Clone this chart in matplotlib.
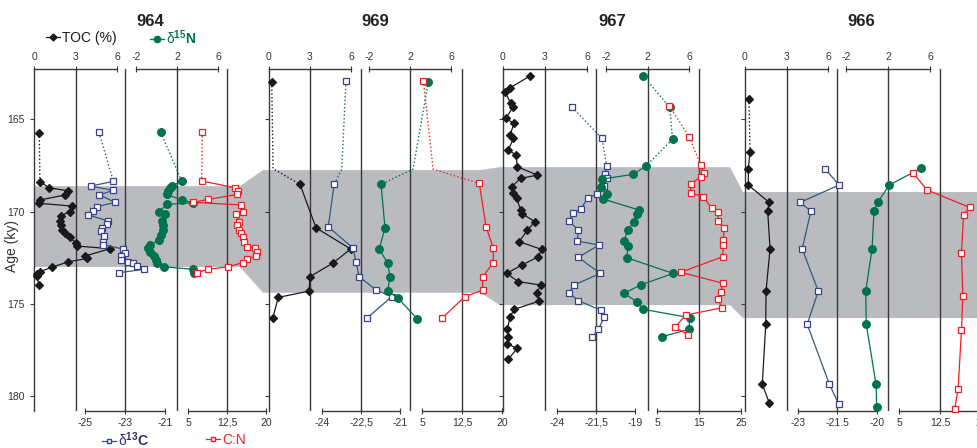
#==============================================================================
#   HEADERS
#==============================================================================
import numpy as np
import matplotlib
matplotlib.use('Agg')
import matplotlib.pyplot as plt
from matplotlib.lines import Line2D

plt.rcParams['font.family'] = ['Liberation Sans', 'DejaVu Sans']
plt.rcParams['mathtext.fontset'] = 'custom'
plt.rcParams['mathtext.rm'] = 'Liberation Sans'
plt.rcParams['mathtext.bf'] = 'Liberation Sans:bold'
plt.rcParams['mathtext.it'] = 'Liberation Sans:italic'

#==============================================================================
#   DATA  (age in ky)
#==============================================================================
sites = ['964', '969', '967', '966']

# correlation band (ky) for each site
band_top = [168.62, 167.75, 167.59, 168.94]
band_bot = [173.00, 174.40, 175.07, 175.77]

# ---- 964
age_964_toc = [165.73, 168.38, 168.71, 168.87, 169.10, 169.37, 169.55, 169.70, 170.00, 170.22,
               170.50, 170.73, 171.00, 171.16, 171.40, 171.72, 171.87, 172.01, 172.41, 172.54,
               172.72, 173.02, 173.26, 173.39, 173.49, 173.98]
toc_964 = [0.38, 0.43, 1.10, 2.44, 2.24, 0.43, 0.38, 2.72, 2.60, 1.95,
           1.88, 1.95, 2.05, 2.24, 2.60, 3.04, 3.13, 5.50, 3.69, 3.86,
           2.48, 1.28, 0.43, 0.24, 0.19, 0.38]
age_964_c13 = [165.71, 168.36, 168.62, 168.85, 169.09, 169.50, 169.74, 169.97, 170.17, 170.51,
               170.67, 170.88, 171.05, 171.33, 171.63, 171.80, 172.03, 172.23, 172.41, 172.63,
               172.72, 172.80, 172.95, 173.13, 173.31]
c13_964 = [-24.30, -23.58, -24.72, -23.58, -24.28, -23.50, -24.42, -24.58, -24.87, -23.83,
           -23.92, -24.15, -24.22, -24.05, -24.08, -24.08, -23.08, -23.00, -23.20, -23.20,
           -22.83, -22.58, -22.42, -22.05, -23.28]
age_964_n15 = [165.71, 168.34, 168.62, 168.71, 168.87, 169.07, 169.37, 169.52, 169.61, 170.01,
               170.13, 170.51, 170.73, 171.00, 171.27, 171.54, 171.81, 171.99, 172.18, 172.41,
               172.63, 172.77, 172.99, 173.13, 173.31]
n15_964 = [0.41, 2.46, 1.48, 1.32, 1.15, 1.00, 2.46, 3.59, 1.00, 0.27,
           0.83, 0.50, 0.66, 0.66, 0.44, 0.21, -0.63, -0.86, -0.63, -0.24,
           -0.05, 0.02, 0.76, 3.53, 3.69]
age_964_cn = [165.71, 168.34, 168.71, 168.87, 169.07, 169.34, 169.50, 169.64, 170.01, 170.13,
              170.55, 170.73, 171.00, 171.18, 171.40, 171.63, 171.90, 171.99, 172.18, 172.41,
              172.59, 172.77, 172.99, 173.13, 173.31]
cn_964 = [7.75, 7.63, 14.04, 14.67, 14.48, 8.90, 6.02, 15.19, 15.52, 14.23,
          14.87, 14.48, 14.87, 15.13, 15.52, 15.77, 16.40, 17.88, 18.21, 18.08,
          16.29, 15.52, 12.75, 8.90, 6.67]

# ---- 969 (2nd value of each series is a bend of the dotted line, no sample)
age_969_toc = [162.99, 167.68, 168.52, 170.88, 172.03, 172.80, 173.53, 174.31, 174.65, 175.79]
toc_969 = [0.20, 0.30, 2.27, 3.44, 5.98, 4.66, 2.99, 2.94, 0.68, 0.27]
age_969_c13 = [162.94, 167.70, 168.51, 170.82, 171.99, 172.75, 173.53, 174.25, 174.61, 175.79]
c13_969 = [-23.08, -23.24, -23.53, -23.76, -22.80, -22.69, -22.57, -21.92, -21.32, -22.28]
age_969_n15 = [162.96, 167.70, 168.52, 170.88, 172.03, 172.80, 173.53, 174.31, 174.67, 175.82]
n15_969 = [3.79, 2.30, -0.83, -0.44, -1.00, -0.18, 0.05, -0.18, 0.80, 2.71]
age_969_cn = [162.91, 167.70, 168.47, 170.82, 171.99, 172.77, 173.53, 174.25, 174.61, 175.79]
cn_969 = [5.25, 7.08, 15.75, 17.00, 18.38, 18.38, 16.39, 16.39, 13.07, 8.69]

# ---- 967
age_967_toc = [162.65, 163.29, 163.50, 164.13, 164.35, 164.95, 165.22, 165.85, 166.03, 166.66,
               166.93, 167.57, 168.02, 168.20, 168.65, 169.01, 169.28, 169.92, 170.13, 170.55,
               171.00, 171.63, 172.05, 172.45, 172.90, 173.35, 173.80, 173.98, 174.43, 174.85,
               175.30, 175.73, 176.38, 176.78, 177.18, 177.41, 178.00]
toc_967 = [1.93, 0.50, 0.14, 0.55, 0.69, 0.21, 0.79, 0.50, 0.74, 0.38,
           0.93, 1.02, 2.45, 1.26, 0.62, 0.69, 0.98, 1.26, 1.38, 2.29,
           1.74, 1.16, 2.76, 2.52, 1.34, 0.26, 1.09, 2.69, 2.41, 2.59,
           0.79, 0.50, 0.31, 0.38, 0.31, 1.02, 0.38]
age_967_c13 = [164.35, 166.03, 167.53, 167.98, 168.17, 168.62, 169.05, 169.25, 169.88, 170.09,
               170.53, 171.00, 171.60, 171.81, 172.48, 173.35, 173.98, 174.40, 174.83, 175.34,
               175.73, 176.37, 176.82]
c13_967 = [-23.02, -21.12, -20.81, -20.92, -20.81, -20.97, -21.42, -22.03, -22.48, -22.99,
           -23.21, -22.63, -22.70, -21.31, -22.63, -21.24, -22.90, -23.24, -22.63, -21.20,
           -20.97, -21.35, -21.74]
age_967_n15 = [162.65, 164.35, 166.08, 167.53, 167.98, 168.24, 168.69, 169.07, 169.32, 169.92,
               170.13, 170.55, 171.00, 171.61, 171.87, 172.50, 173.35, 173.98, 174.43, 174.88,
               175.30, 175.75, 176.38, 176.78]
n15_967 = [1.59, 4.15, 4.41, 1.85, 0.63, -2.41, -2.51, -1.93, -2.26, 1.20,
           0.95, 0.69, 0.09, -0.27, 0.14, -0.01, 4.47, 1.34, -0.27, 0.95,
           1.59, 6.08, 6.01, 3.41]
age_967_cn = [164.28, 165.94, 167.48, 167.93, 168.11, 168.52, 168.98, 169.20, 169.82, 170.04,
              170.50, 170.91, 171.54, 171.81, 172.45, 173.29, 173.89, 174.34, 174.76, 175.21,
              175.61, 176.27, 176.69]
cn_967 = [7.93, 12.69, 15.40, 16.26, 15.40, 13.02, 13.02, 16.02, 18.02, 19.45,
          19.60, 21.02, 20.79, 20.79, 20.64, 10.64, 20.79, 20.17, 19.45, 20.55,
          11.83, 9.29, 12.45]

# ---- 966
age_966_toc = [163.90, 166.76, 167.69, 168.56, 169.50, 169.97, 172.03, 174.31, 176.11, 179.35, 180.39]
toc_966 = [0.29, 0.36, 0.24, 0.24, 1.74, 1.64, 1.81, 1.52, 1.50, 1.25, 1.76]
age_966_c13 = [167.69, 168.56, 169.50, 169.97, 172.03, 174.31, 176.11, 179.35, 180.45]
c13_966 = [-21.97, -21.44, -22.92, -22.51, -22.84, -22.23, -22.65, -21.81, -21.45]
age_966_n15 = [167.66, 168.56, 169.50, 169.97, 172.03, 174.31, 176.11, 179.36, 180.58]
n15_966 = [5.11, 2.12, 1.02, 0.67, 0.48, -0.12, -0.07, 0.86, 0.92]
age_966_cn = [167.93, 168.83, 169.77, 170.19, 172.26, 174.56, 176.42, 179.62, 180.70]
cn_966 = [7.65, 10.13, 17.91, 16.80, 16.43, 16.67, 16.43, 15.81, 15.19]

#==============================================================================
#   LAYOUT (pixels of a 977x448 figure)
#==============================================================================
W, H = 977, 448
Y_TOP, Y_BOT = 69, 411
AGE_LIM = (180.81, 162.27)
age_ticks = [165, 170, 175, 180]

band_px = [(34, 240), (263, 480), (500, 730), (743, 977)]

toc_px = [(34, 117), (269, 351), (503, 587), (745, 828)]
c13_px = [(85, 165), (322, 400), (557, 635), (798, 877)]
n15_px = [(136, 218), (369, 451), (606, 689), (846, 930)]
cn_px = [(188, 266), (422, 502), (657, 741), (899, 981)]

c13_ticks = [[-25, -23, -21], [-24, -22.5, -21], [-24, -21.5, -19], [-23, -21.5, -20]]
c13_lab = [['-25', '-23', '-21'], ['-24', '-22,5', '-21'], ['-24', '-21,5', '-19'], ['-23', '-21.5', '-20']]
cn_ticks = [[5, 12.5, 20], [5, 12.5, 20], [5, 15, 25], [5, 12.5, 20]]
cn_lab = [['5', '12,5', '20'], ['5', '12,5', '20'], ['5', '15', '25'], ['5', '12.5', '20']]

title_x = [150, 375, 612, 861]

LINE = '#3a3a3a'
TXT = '#333333'
C_TOC = '#1a1a1a'
C_13 = '#3b3f8f'
C_13L = '#2e5c7a'
C_15 = '#00734d'
C_CN = '#ee1f26'
BAND = '#babbbe'

fig = plt.figure(figsize=(W / 100., H / 100.), dpi=100)


def new_axes(x0, x1):
    return fig.add_axes([x0 / float(W), 1 - Y_BOT / float(H), (x1 - x0) / float(W),
                         (Y_BOT - Y_TOP) / float(H)], facecolor='none')


def style_axes(ax, where, ticks, labels, grid):
    ax.set_ylim(AGE_LIM)
    ax.set_xlim(ticks[0], ticks[-1])
    for s in ['top', 'bottom', 'left', 'right']:
        ax.spines[s].set_visible(False)
    ax.spines[where].set_visible(True)
    ax.spines[where].set_color(LINE)
    ax.spines[where].set_linewidth(1.0)
    ax.xaxis.set_ticks_position(where)
    ax.set_xticks(ticks)
    ax.set_xticklabels(labels)
    ax.tick_params(axis='x', direction='inout', length=4, width=0.8, color=LINE,
                   labelsize=7.5, labelcolor=TXT, pad=3)
    ax.set_yticks([])
    ax.axvline(grid, color=LINE, lw=1.0, zorder=1)


def draw(ax, age, val, lc, marker, mfc, mec, ms, n_dot=0, hide=()):
    age = np.asarray(age)
    val = np.asarray(val)
    if n_dot:
        ax.plot(val[:n_dot + 1], age[:n_dot + 1], ls=':', color=lc, lw=1.0, clip_on=False, zorder=2)
    ax.plot(val[n_dot:], age[n_dot:], ls='-', color=lc, lw=0.9, clip_on=False, zorder=2)
    keep = [i for i in range(len(age)) if i not in hide]
    ax.plot(val[keep], age[keep], ls='none', marker=marker, ms=ms, mfc=mfc, mec=mec,
            mew=0.9, clip_on=False, zorder=3)


#==============================================================================
#   BAND
#==============================================================================
bg = new_axes(0, W)
bg.set_xlim(0, W)
bg.set_ylim(AGE_LIM)
bg.axis('off')
xs, ys = [], []
for (x0, x1), t in zip(band_px, band_top):
    xs += [x0, x1]
    ys += [t, t]
for (x0, x1), b in zip(band_px[::-1], band_bot[::-1]):
    xs += [x1, x0]
    ys += [b, b]
bg.fill(xs, ys, color=BAND, lw=0, zorder=0)

#==============================================================================
#   PANELS
#==============================================================================
series = {
    '964': [(age_964_toc, toc_964, 1), (age_964_c13, c13_964, 1), (age_964_n15, n15_964, 1), (age_964_cn, cn_964, 1)],
    '969': [(age_969_toc, toc_969, 2), (age_969_c13, c13_969, 2), (age_969_n15, n15_969, 2), (age_969_cn, cn_969, 2)],
    '967': [(age_967_toc, toc_967, 0), (age_967_c13, c13_967, 2), (age_967_n15, n15_967, 3), (age_967_cn, cn_967, 2)],
    '966': [(age_966_toc, toc_966, 1), (age_966_c13, c13_966, 0), (age_966_n15, n15_966, 0), (age_966_cn, cn_966, 0)],
}

for i, site in enumerate(sites):
    hide = (1,) if site == '969' else ()
    (a_t, v_t, d_t), (a_c, v_c, d_c), (a_n, v_n, d_n), (a_r, v_r, d_r) = series[site]

    ax = new_axes(*toc_px[i])
    style_axes(ax, 'top', [0, 3, 6], ['0', '3', '6'], 3)
    ax.spines['left'].set_visible(True)
    ax.spines['left'].set_color(LINE)
    ax.spines['left'].set_linewidth(1.0)
    ax.set_yticks(age_ticks)
    ax.tick_params(axis='y', direction='out', length=3, width=0.8, color=LINE,
                   labelsize=7.5, labelcolor=TXT, pad=4, labelleft=(i == 0))
    draw(ax, a_t, v_t, C_TOC, 'D', C_TOC, C_TOC, 4.2, d_t, hide)

    ax = new_axes(*c13_px[i])
    style_axes(ax, 'bottom', c13_ticks[i], c13_lab[i], c13_ticks[i][1])
    draw(ax, a_c, v_c, C_13L, 's', 'white', C_13, 4.2, d_c, hide)

    ax = new_axes(*n15_px[i])
    style_axes(ax, 'top', [-2, 2, 6], ['-2', '2', '6'], 2)
    draw(ax, a_n, v_n, C_15, 'o', C_15, C_15, 5.5, d_n, hide)

    ax = new_axes(*cn_px[i])
    style_axes(ax, 'bottom', cn_ticks[i], cn_lab[i], cn_ticks[i][1])
    draw(ax, a_r, v_r, C_CN, 's', 'white', C_CN, 4.2, d_r, hide)

    fig.text(title_x[i] / float(W), 1 - 21 / float(H), site, ha='center', va='center',
             fontsize=12, fontweight='bold', color='#222222')

fig.text(12 / float(W), 1 - 246 / float(H), 'Age (ky)', rotation=90, ha='center',
         va='center', fontsize=10, color=TXT)

#==============================================================================
#   LEGENDS
#==============================================================================
def key(x, y, handle, label, color):
    lg = fig.legend(handles=[handle], labels=[label], loc='center left',
                    bbox_to_anchor=(x / float(W), 1 - y / float(H)), frameon=False,
                    handlelength=1.0, handletextpad=0.15, borderpad=0, borderaxespad=0,
                    fontsize=10)
    lg.get_texts()[0].set_color(color)


key(46, 38, Line2D([], [], color=C_TOC, lw=0.9, marker='D', ms=3.5), 'TOC (%)', C_TOC)
key(150, 38, Line2D([], [], color=C_15, lw=0.9, marker='o', ms=4.5), r'δ$^{\mathbf{15}}\mathbf{N}$', C_15)
key(102, 440, Line2D([], [], color=C_13L, lw=0.9, marker='s', ms=3.5, mfc='white', mec=C_13),
    r'δ$^{\mathbf{13}}\mathbf{C}$', '#2b2f6e')
key(206, 440, Line2D([], [], color=C_CN, lw=0.9, marker='s', ms=3.5, mfc='white', mec=C_CN),
    'C:N', C_CN)

plt.savefig('out.png', dpi=100)
